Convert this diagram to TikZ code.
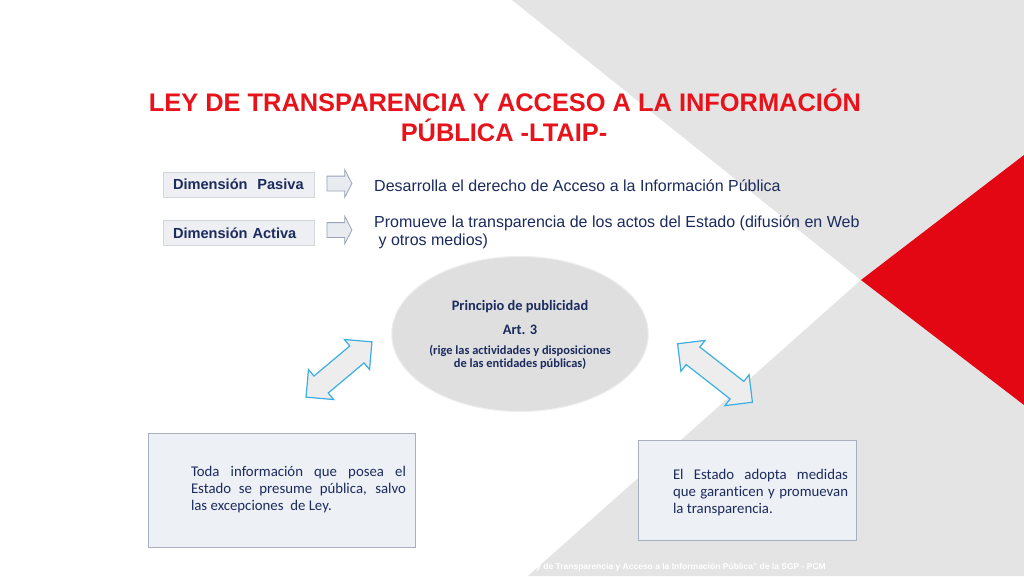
\documentclass[tikz,border=0pt]{standalone}
\usepackage{fontspec}
\setmainfont{Liberation Sans}
\newfontfamily\calibri[Ligatures=NoCommon]{Carlito}
\usetikzlibrary{shapes.geometric,shapes.arrows}
\definecolor{slidegray}{HTML}{E4E4E4}
\definecolor{slidered}{HTML}{E30613}
\definecolor{titlered}{HTML}{E8121B}
\definecolor{slidenavy}{HTML}{1B2B5E}
\definecolor{dimfill}{HTML}{EEEFF2}
\definecolor{dimline}{HTML}{D3D6DC}
\definecolor{boxfill}{HTML}{EDF0F4}
\definecolor{boxline}{HTML}{A8B0BF}
\definecolor{arrowline}{HTML}{98A3B6}
\definecolor{arrowfill}{HTML}{E8EBF0}
\definecolor{twinline}{HTML}{3BAEE2}
\definecolor{twinfill}{HTML}{EDEDED}
\definecolor{ovalfill}{HTML}{DFDFDF}

\begin{document}
\begin{tikzpicture}[x=1pt,y=-1pt,
    dimbox/.style={draw=dimline, fill=dimfill, text=slidenavy, font=\bfseries\fontsize{14.6}{17}\selectfont, minimum height=25pt, text width=131pt, align=left, inner xsep=10pt, inner ysep=0pt},
    pointer/.style={single arrow, draw=arrowline, fill=arrowfill, line width=0.8pt, minimum height=25pt, inner xsep=0pt, inner ysep=7pt, single arrow head extend=6.5pt, single arrow tip angle=125},
    desc/.style={text=slidenavy, font=\fontsize{16}{19}\selectfont, inner sep=0pt},
    twin/.style={double arrow, draw=twinline, fill=twinfill, line width=1.2pt, inner xsep=0pt, inner ysep=10.5pt, double arrow head extend=8.5pt},
    infobox/.style={draw=boxline, fill=boxfill, line width=0.8pt, inner sep=0pt},
    infotext/.style={text=slidenavy, font=\calibri\fontsize{14.8}{17}\selectfont, align=justify, inner sep=0pt}]

    \fill[white] (0,0) rectangle (1024,576);
    \fill[slidegray] (512,0) -- (1024,0) -- (1024,576) -- (528,576) -- (861,280) -- cycle;
    \fill[slidered] (861,280) -- (1024,155) -- (1024,405) -- cycle;
    \useasboundingbox (0,0) rectangle (1024,576);

    \node[text=titlered, font=\bfseries\fontsize{25.4}{30}\selectfont, anchor=base, inner sep=0pt] (title) at (505,111) {LEY DE TRANSPARENCIA Y ACCESO A LA INFORMACIÓN};
    \node[text=titlered, font=\bfseries\fontsize{25.4}{30}\selectfont, anchor=base, inner sep=0pt] (subtitle) at (504,141) {PÚBLICA -LTAIP-};

    \node[dimbox] (pasiva) at (238.5,184.5) {Dimensión\ \ Pasiva};
    \node[dimbox] (activa) at (238.5,233) {Dimensión Activa};
    \node[pointer] (pasivaarrow) at (337.5,183.5) {};
    \node[pointer] (activaarrow) at (337.5,230) {};
    \node[desc, anchor=base west] (pasivatext) at (374,191) {Desarrolla el derecho de Acceso a la Información Pública};
    \node[desc, anchor=base west] (activatext) at (374,227) {Promueve la transparencia de los actos del Estado (difusión en Web};
    \node[desc, anchor=base west] (activatext2) at (374,245) {\ y otros medios)};

    \node[ellipse, fill=ovalfill, draw=ovalfill!50!white, line width=1pt, minimum width=255pt, minimum height=155pt, text=slidenavy, font=\calibri\bfseries\fontsize{14.4}{19}\selectfont, align=center, inner sep=0pt] (principio) at (520,334)
        {Principio de publicidad\\[5pt]Art. 3\\[1pt]{\fontsize{12.4}{12}\selectfont (rige las actividades y disposiciones}\\[-6.5pt]\smash{\fontsize{12.4}{12}\selectfont de las entidades públicas)}};

    \node[twin, minimum height=86pt, rotate=40] (leftlink) at (339,369.5) {};
    \node[twin, minimum height=95pt, rotate=-38] (rightlink) at (715,373) {};

    \node[infobox, minimum width=267pt, minimum height=114pt] (publicbox) at (281.5,490) {};
    \node[infotext, text width=215pt] (publictext) at (298.5,490) {Toda información que posea el\linebreak Estado se presume pública, salvo\linebreak las excepciones\ \ de Ley.};
    \node[infobox, minimum width=218pt, minimum height=100pt] (statebox) at (747,490) {};
    \node[infotext, text width=175pt] (statetext) at (760.5,493) {El Estado adopta medidas\linebreak que garanticen y promuevan\linebreak la transparencia.};

    \node[text=white, font=\bfseries\fontsize{8.5}{10}\selectfont, anchor=base east, inner sep=0pt] (source) at (826,569) {“Ley de Transparencia y Acceso a la Información Pública” de la SGP - PCM};
\end{tikzpicture}
\end{document}
